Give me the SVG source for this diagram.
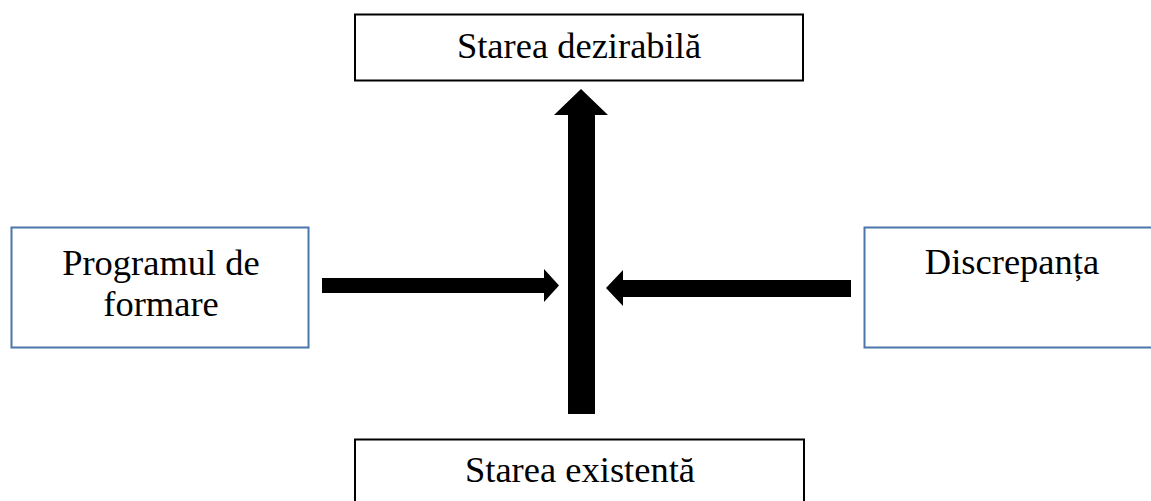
<svg xmlns="http://www.w3.org/2000/svg" width="1151" height="501" viewBox="0 0 1151 501">
<style>
.bk{fill:#fff;stroke:#000;stroke-width:2}
.bl{fill:#fff;stroke:#4a76aa;stroke-width:2}
text{font-family:"Liberation Serif","Times New Roman",serif;font-size:36.5px;fill:#000;text-anchor:middle}
.ar{fill:#000;stroke:none}
</style>
<rect width="1151" height="501" fill="#fff"/>
<g id="node-dezirabila">
<rect class="bk" x="355" y="14.5" width="448" height="66"/>
<text x="579" y="58">Starea dezirabilă</text>
</g>
<g id="node-existenta">
<rect class="bk" x="355" y="439.5" width="449" height="80"/>
<text x="580" y="482">Starea existentă</text>
</g>
<g id="node-program">
<rect class="bl" x="11.5" y="227.5" width="297" height="120"/>
<text x="161" y="275">Programul de</text>
<text x="161" y="316">formare</text>
</g>
<g id="node-discrepanta">
<rect class="bl" x="864.5" y="227.5" width="300" height="120"/>
<text x="1012" y="274">Discrepanța</text>
</g>
<g id="connectors">
<polygon class="ar" points="568,414 595,414 595,115 608,115 581,89 554,115 568,115"/>
<polygon class="ar" points="322,278 544,278 544,269 559,285.5 544,302 544,293 322,293"/>
<polygon class="ar" points="851,280 623,280 623,270 606,288 623,306 623,297 851,297"/>
</g>
</svg>
